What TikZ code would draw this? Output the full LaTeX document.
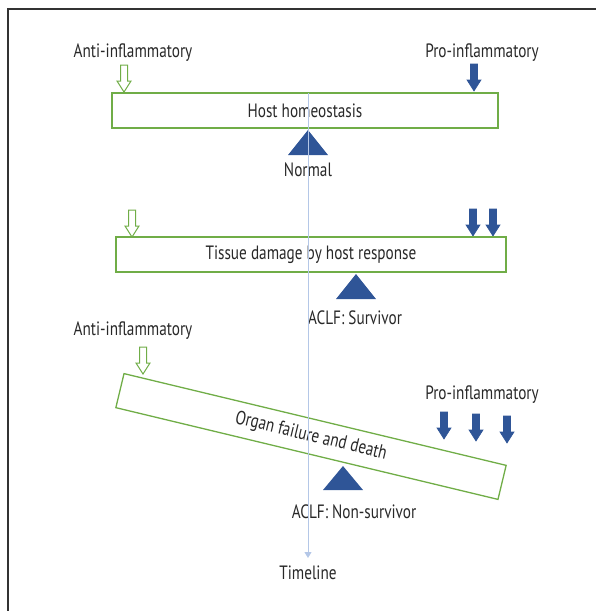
\documentclass[tikz,border=0pt]{standalone}
\usepackage{fontspec}
\setmainfont[FakeStretch=0.79]{PT Sans}
\usetikzlibrary{positioning,arrows.meta}

\definecolor{boxgreen}{RGB}{112,173,71}
\definecolor{darkblue}{RGB}{47,85,151}
\definecolor{lineblue}{RGB}{180,199,231}
\definecolor{inkgray}{RGB}{40,40,40}

\tikzset{
  blockarrow/.pic = {
    \path[pic actions] (-3.5,0) -- (-3.5,16) -- (-7,16) -- (0,27)
      -- (7,16) -- (3.5,16) -- (3.5,0) -- cycle;
  },
}

\begin{document}
\begin{tikzpicture}[x=1pt, y=-1pt,
    every node/.style = {font=\fontsize{19.3}{21}\selectfont, text=inkgray},
    balance/.style = {draw=boxgreen, line width=1.3pt, minimum height=35, inner sep=0},
    antiarrow/.style = {draw=boxgreen, fill=white, line width=1pt},
    proarrow/.style = {draw=darkblue, fill=darkblue, line width=0.6pt},
  ]
  \useasboundingbox (0,0) rectangle (596,611);
  \draw[line width=1.4pt, black!80] (8,611) -- (8,9) -- (596,9);

  % normal
  \node (anti1) at (133,53) {Anti-inflammatory};
  \node (pro1) at (482,53) {Pro-inflammatory};
  \pic[antiarrow] (a1) at (124,65) {blockarrow};
  \pic[proarrow] (p1) at (474,64) {blockarrow};
  \node[balance, minimum width=386] (home) at (305,110.5) {Host homeostasis};
  \coordinate (f1) at (308,130);
  \fill[darkblue] (f1) -- ++(-20,25) -- ++(40,0) -- cycle;
  \node (normal) at (308,170) {Normal};

  % survivor
  \pic[antiarrow] (a2) at (132,210) {blockarrow};
  \pic[proarrow] (p2) at (473,209) {blockarrow};
  \pic[proarrow] (p3) at (493,209) {blockarrow};
  \node[balance, minimum width=390] (damage) at (311,254.5) {Tissue damage by host response};
  \coordinate (f2) at (356,274);
  \fill[darkblue] (f2) -- ++(-20,25) -- ++(40,0) -- cycle;
  \node (survivor) at (355,318) {ACLF: Survivor};

  % non-survivor
  \node (anti3) at (133,331) {Anti-inflammatory};
  \pic[antiarrow] (a3) at (143,347) {blockarrow};
  \node (pro3) at (482,395) {Pro-inflammatory};
  \pic[proarrow] (p4) at (444,412) {blockarrow};
  \pic[proarrow] (p5) at (476,414) {blockarrow};
  \pic[proarrow] (p6) at (507,416) {blockarrow};
  \node[balance, minimum width=393, rotate=-13.5] (failure) at (311,436.5) {Organ failure and death};
  \coordinate (f3) at (343,466);
  \fill[darkblue] (f3) -- ++(-20,24) -- ++(40,0) -- cycle;
  \node (nonsurvivor) at (354,512) {ACLF: Non-survivor};

  % timeline
  \node (timeline) at (308,573) {Timeline};
  \coordinate (tstart) at (308,93);
  \coordinate (tend) at (308,558);
  \draw[lineblue, line width=1pt, -{Triangle[width=7pt,length=6pt]}] (tstart) -- (tend);
\end{tikzpicture}
\end{document}
